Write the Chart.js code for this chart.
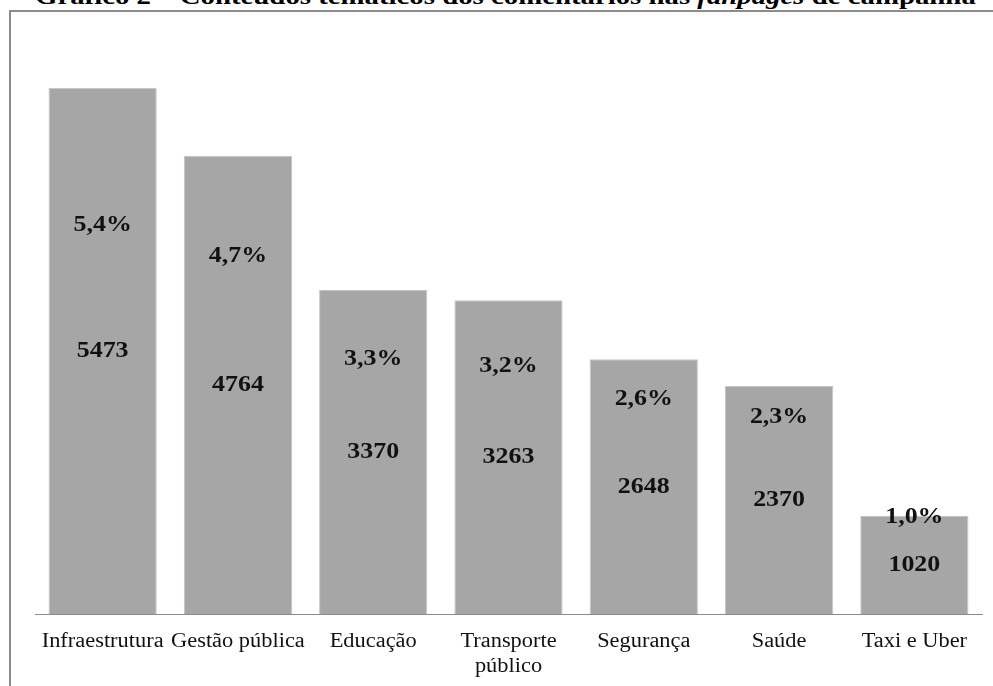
<!DOCTYPE html>
<html>
<head>
<meta charset="utf-8">
<script src="https://cdn.jsdelivr.net/npm/chart.js@4/dist/chart.umd.min.js"></script>
<style>
  html, body { margin: 0; padding: 0; background: #fff; overflow: hidden; }
  #wrap { position: relative; width: 993px; height: 686px; }
  #title {
    position: absolute; left: 35px; top: -17px; white-space: nowrap;
    font: bold 24px "Liberation Serif", serif; color: #000;
    transform: scaleX(1.2); transform-origin: left top;
  }
  #frame {
    position: absolute; left: 9px; top: 10px; width: 1200px; height: 900px;
    border: 2px solid #8c8c8c; box-sizing: border-box;
  }
  canvas { position: absolute; left: 0; top: 0; }
</style>
</head>
<body>
<div id="wrap">
  <div id="title">Gráfico 2 – Conteúdos temáticos dos comentários nas <i>fanpages</i> de campanha</div>
  <div id="frame"></div>
  <canvas id="chart" width="993" height="686"></canvas>
</div>
<script>
const categories = ["Infraestrutura", "Gestão pública", "Educação", ["Transporte", "público"], "Segurança", "Saúde", "Taxi e Uber"];
const counts = [5473, 4764, 3370, 3263, 2648, 2370, 1020];
const percents = ["5,4%", "4,7%", "3,3%", "3,2%", "2,6%", "2,3%", "1,0%"];

// where the percentage label sits, in pixels below the bar top
const pctOffsets = [137, 100, 69, 66, 39, 31, 1];

// the source text looks a little stretched sideways
function stretchedText(ctx, text, x, y, sx) {
    ctx.save();
    ctx.translate(x, y);
    ctx.scale(sx, 1);
    ctx.fillText(text, 0, 0);
    ctx.restore();
}

const barLabels = {
    id: "barLabels",
    afterDatasetsDraw(chart) {
        const ctx = chart.ctx;
        const meta = chart.getDatasetMeta(0);
        ctx.save();
        ctx.font = "bold 24px 'Liberation Serif', serif";
        ctx.fillStyle = "#111";
        ctx.textAlign = "center";
        ctx.textBaseline = "middle";
        meta.data.forEach((bar, i) => {
            const mid = (bar.y + bar.base) / 2;
            stretchedText(ctx, String(counts[i]), bar.x, mid, 1.08);
            stretchedText(ctx, percents[i], bar.x, bar.y + pctOffsets[i], 1.08);
        });

        // category labels under the axis
        ctx.font = "20px 'Liberation Serif', serif";
        ctx.textBaseline = "alphabetic";
        meta.data.forEach((bar, i) => {
            const lines = [].concat(categories[i]);
            lines.forEach((line, j) => {
                stretchedText(ctx, line, bar.x, 647 + j * 25, 1.12);
            });
        });
        ctx.restore();
    }
};

new Chart(document.getElementById("chart"), {
    type: "bar",
    data: {
        labels: categories,
        datasets: [{
            data: counts,
            backgroundColor: "#a6a6a6",
            borderColor: "#c4c4c4",
            borderWidth: 1,
            barPercentage: 0.8,
            categoryPercentage: 1
        }]
    },
    options: {
        responsive: false,
        animation: false,
        layout: { padding: { left: 35, right: 11, top: 37, bottom: 0 } },
        plugins: { legend: { display: false }, tooltip: { enabled: false } },
        scales: {
            x: {
                grid: { display: false, drawTicks: false },
                border: { color: "#8c8c8c", width: 1 },
                ticks: { display: false },
                afterFit(scale) { scale.height = 72; }
            },
            y: {
                display: false,
                min: 0,
                max: 6000
            }
        }
    },
    plugins: [barLabels]
});
</script>
</body>
</html>
